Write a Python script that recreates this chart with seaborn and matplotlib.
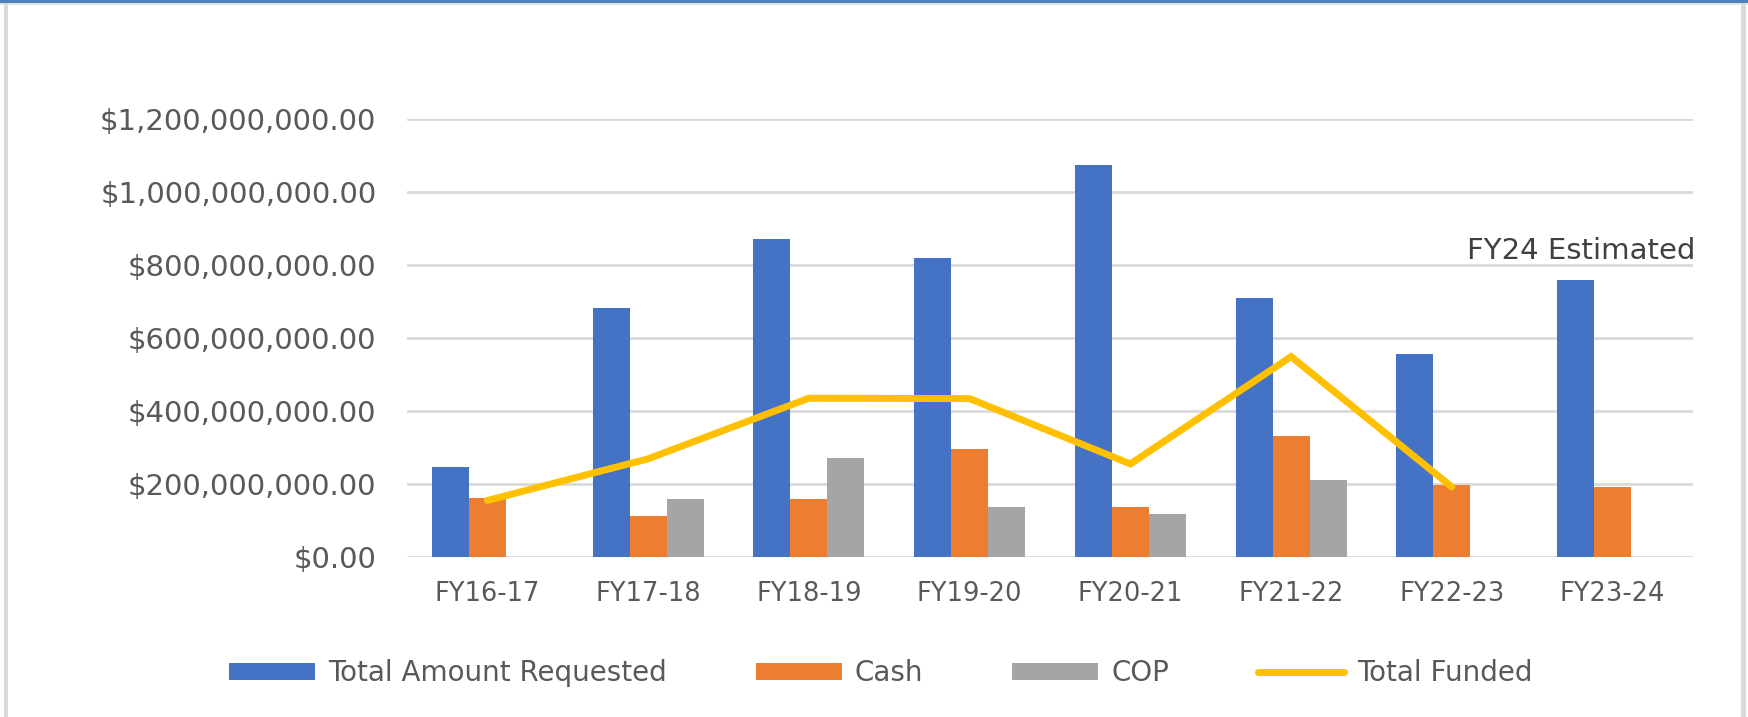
import numpy as np
import pandas as pd
import matplotlib
matplotlib.use("Agg")
import matplotlib.pyplot as plt
from matplotlib.ticker import FuncFormatter, MultipleLocator
from matplotlib.lines import Line2D
from matplotlib.patches import Rectangle
import seaborn as sns

# ---- data ----
years = ["FY16-17", "FY17-18", "FY18-19", "FY19-20", "FY20-21", "FY21-22", "FY22-23", "FY23-24"]
total_requested = [248e6, 684e6, 873e6, 819e6, 1075e6, 711e6, 556e6, 761e6]
cash = [164e6, 114e6, 160e6, 296e6, 138e6, 332e6, 197e6, 192e6]
cop = [np.nan, 160e6, 271e6, 139e6, 119e6, 213e6, np.nan, np.nan]
total_funded = [156e6, 270e6, 436e6, 435e6, 256e6, 550e6, 193e6, np.nan]
series_names = ["Total Amount Requested", "Cash", "COP"]
line_name = "Total Funded"
annotation = "FY24 Estimated"

colors = ["#4472C4", "#ED7D31", "#A5A5A5"]
line_color = "#FFC000"
text_color = "#595959"

bars = pd.DataFrame({
    "year": years * 3,
    "series": [series_names[0]] * 8 + [series_names[1]] * 8 + [series_names[2]] * 8,
    "value": total_requested + cash + cop,
})
line_df = pd.DataFrame({"year": years, "value": total_funded})

sns.set_style("white")
plt.rcParams["font.family"] = ["DejaVu Sans"]

W, H = 1748, 717
fig = plt.figure(figsize=(W / 100, H / 100), dpi=100)
ax = fig.add_axes([407 / W, 1 - 557.4 / H, (1693 - 407) / W, (557.4 - 119.3) / H])

sns.barplot(data=bars, x="year", y="value", hue="series", order=years,
            hue_order=series_names, palette=colors, saturation=1, width=0.69,
            linewidth=0, errorbar=None, ax=ax, zorder=2)
sns.pointplot(data=line_df, x="year", y="value", order=years, color=line_color,
              markers="", linewidth=5, errorbar=None, ax=ax, zorder=3)
for ln in ax.lines:
    ln.set_solid_capstyle("round")
    ln.set_solid_joinstyle("miter")

ax.set_ylim(0, 1.2e9)
ax.set_xlim(-0.5, len(years) - 0.5)
ax.yaxis.set_major_locator(MultipleLocator(2e8))
ax.yaxis.set_major_formatter(FuncFormatter(lambda v, p: f"${v:,.2f}"))
ax.set_xlabel("")
ax.set_ylabel("")
for s in ax.spines.values():
    s.set_visible(False)
ax.set_axisbelow(True)
ax.grid(axis="y", color="#D9D9D9", linewidth=2)
ax.grid(axis="x", visible=False)
ax.tick_params(axis="y", length=0, pad=22, labelsize=21, labelcolor=text_color)
ax.tick_params(axis="x", length=0, pad=17, labelsize=18.5, labelcolor=text_color)

ax.text(1.002, 818e6, annotation, transform=ax.get_yaxis_transform(),
        ha="right", va="baseline", fontsize=21, color="#404040")

if ax.legend_ is not None:
    ax.legend_.remove()
bar_handles = [Rectangle((0, 0), 1, 1, facecolor=c, edgecolor="none") for c in colors]
line_handle = Line2D([0], [0], color=line_color, linewidth=5, solid_capstyle="round")
fig.legend(bar_handles + [line_handle], series_names + [line_name],
           loc="center", bbox_to_anchor=(881 / W, 1 - 673 / H), ncol=4,
           frameon=False, fontsize=20, labelcolor=text_color,
           handlelength=3.1, handleheight=0.58, handletextpad=0.47,
           columnspacing=3.2)

# chart-area border decoration
fig.patches.append(Rectangle((0, 1 - 3 / H), 1, 3 / H, transform=fig.transFigure,
                             facecolor="#4F81BD", edgecolor="none", zorder=10))
fig.patches.append(Rectangle((0, 1 - 5 / H), 1, 2 / H, transform=fig.transFigure,
                             facecolor="#E3E3E3", edgecolor="none", zorder=10))
fig.patches.append(Rectangle((4 / W, 0), 4 / W, 1 - 3 / H, transform=fig.transFigure,
                             facecolor="#DADADA", edgecolor="none", zorder=10))
fig.patches.append(Rectangle((1741 / W, 0), 5 / W, 1 - 3 / H, transform=fig.transFigure,
                             facecolor="#DADADA", edgecolor="none", zorder=10))

fig.savefig("out.png", dpi=100, facecolor="white")
